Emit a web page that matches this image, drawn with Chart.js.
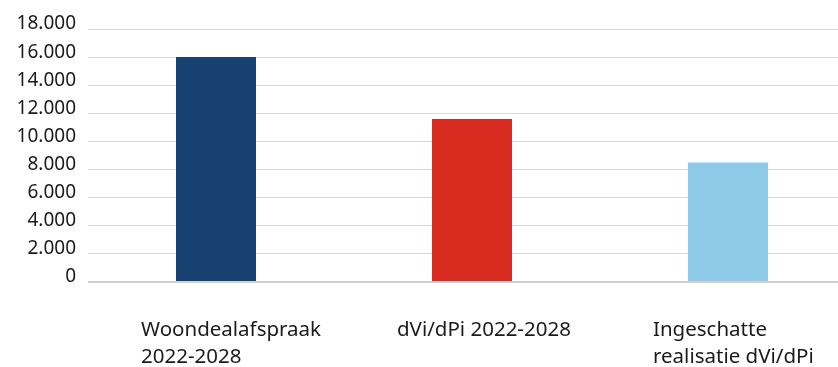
<!DOCTYPE html>
<html lang="nl">
<head>
<meta charset="utf-8">
<title>Woningbouw dVi/dPi</title>
<script src="https://cdn.jsdelivr.net/npm/chart.js@4/dist/chart.umd.min.js"></script>
<style>
  html, body { margin: 0; padding: 0; background: #fff; overflow: hidden; }
  /* wider than the window: the last category runs past the right edge */
  #wrap { position: relative; width: 856px; height: 367px; }
</style>
</head>
<body>
<div id="wrap"><canvas id="bouwChart"></canvas></div>
<script>
/* staafgrafiek: afspraak vs. dVi/dPi vs. ingeschatte realisatie */

const categories = [
  ['Woondealafspraak', '2022-2028'],
  'dVi/dPi 2022-2028',
  ['Ingeschatte', 'realisatie dVi/dPi']
];
const woningen = [16000, 11600, 8500];
const barColors = ['#174170', '#d62b1e', '#8fcae8'];

const yMin = 0;
const yMax = 18000;
const yStep = 2000;

const fmtNL = (n) => String(n).replace(/\B(?=(\d{3})+(?!\d))/g, '.');
const FONT = '"Noto Sans", "Open Sans", sans-serif';

new Chart(document.getElementById('bouwChart'), {
  type: 'bar',
  data: {
    labels: categories,
    datasets: [{
      data: woningen,
      backgroundColor: barColors,
      borderWidth: 0,
      categoryPercentage: 1,
      barPercentage: 0.3125
    }]
  },
  options: {
    responsive: true,
    maintainAspectRatio: false,
    animation: false,
    devicePixelRatio: 1,
    layout: { padding: { top: 29, left: 0, right: 0, bottom: 0 } },
    plugins: { legend: { display: false }, tooltip: { enabled: false } },
    scales: {
      x: {
        grid: { display: false },
        border: { display: false },
        afterFit: (s) => { s.height = 85; s.paddingLeft = 0; s.paddingRight = 0; },
        ticks: {
          align: 'start',
          labelOffset: -75,
          padding: 27,
          maxRotation: 0,
          autoSkip: false,
          color: '#1a1a1a',
          font: { family: FONT, size: 20.5, lineHeight: 1.3 }
        }
      },
      y: {
        min: yMin,
        max: yMax,
        border: { display: false },
        afterFit: (s) => { s.width = 88; },
        grid: {
          drawTicks: false,
          color: (c) => c.tick && c.tick.value === 0 ? '#d0d0d0' : '#d9d9d9',
          lineWidth: (c) => c.tick && c.tick.value === 0 ? 2 : 1
        },
        ticks: {
          stepSize: yStep,
          padding: 12,
          labelOffset: -5,
          color: '#1a1a1a',
          font: { family: FONT, size: 19 },
          callback: (v) => fmtNL(v)
        }
      }
    }
  }
});
</script>
</body>
</html>
